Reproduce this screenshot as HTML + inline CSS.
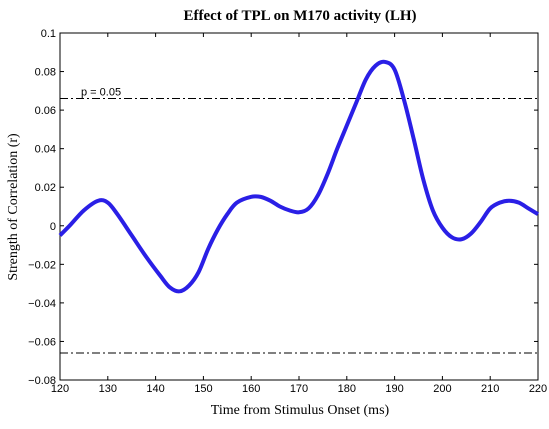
<!DOCTYPE html>
<html><head><meta charset="utf-8"><style>
body{margin:0;background:#fff;width:549px;height:424px;overflow:hidden}
svg text{font-family:"Liberation Sans",sans-serif}
</style></head><body>
<svg id="c" width="549" height="424">
<text x="300" y="20" text-anchor="middle" font-family="Liberation Serif" style="font-family:'Liberation Serif',serif" font-weight="bold" font-size="15">Effect of TPL on M170 activity (LH)</text>
<text x="300" y="414" text-anchor="middle" style="font-family:'Liberation Serif',serif" font-size="14">Time from Stimulus Onset (ms)</text>
<text transform="translate(17,207) rotate(-90)" text-anchor="middle" style="font-family:'Liberation Serif',serif" font-size="14">Strength of Correlation (r)</text>
<g id="g"></g>
</svg>
<script>
const times=[120,122,125,128,130,132,135,138,141,143,145,147,149,151,153,155,157,160,162,164,166,168,170,172,174,176,178,180,182,184,186,188,190,192,194,196,198,200,202,204,206,208,210,212,214,216,218,220];
const values=[-0.005,0.0,0.008,0.013,0.012,0.006,-0.005,-0.016,-0.026,-0.032,-0.034,-0.031,-0.024,-0.012,-0.002,0.006,0.012,0.015,0.015,0.013,0.01,0.008,0.007,0.009,0.016,0.027,0.04,0.052,0.064,0.076,0.083,0.085,0.081,0.065,0.045,0.024,0.008,-0.001,-0.006,-0.007,-0.004,0.002,0.009,0.012,0.013,0.012,0.009,0.006];
const xTicks=[120,130,140,150,160,170,180,190,200,210,220];
const yTicks=[0.1,0.08,0.06,0.04,0.02,0,-0.02,-0.04,-0.06,-0.08];
const yTickLabels=["0.1","0.08","0.06","0.04","0.02","0","\u22120.02","\u22120.04","\u22120.06","\u22120.08"];
const threshold=[0.066,-0.066];
const L=60,R=538,T=33,B=380;
const X=v=>L+(v-120)/100*(R-L);
const Y=v=>T+(0.1-v)/0.18*(B-T);
const g=document.getElementById('g');
const NS='http://www.w3.org/2000/svg';
function mk(t,a){const e=document.createElementNS(NS,t);for(const k in a)e.setAttribute(k,a[k]);g.appendChild(e);return e;}
const frame=mk('rect',{x:L,y:T,width:R-L,height:B-T,fill:'none',stroke:'#000','stroke-width':1});


xTicks.forEach(t=>{
 const x=X(t);
 const a=mk('line',{x1:x,x2:x,y1:B,y2:B-4,stroke:'#000'});
 
 
 mk('line',{x1:x,x2:x,y1:T,y2:T+4,stroke:'#000'});
 const tx=mk('text',{x:x,y:B+12,'text-anchor':'middle','font-size':11});
 tx.textContent=t;
 
 
});
yTicks.forEach((t,i)=>{
 const y=Y(t);
 const a=mk('line',{x1:L,x2:L+4,y1:y,y2:y,stroke:'#000'});
 
 
 mk('line',{x1:R,x2:R-4,y1:y,y2:y,stroke:'#000'});
 const tx=mk('text',{x:L-4,y:y+4,'text-anchor':'end','font-size':11});
 tx.textContent=yTickLabels[i];
 
 
});
threshold.forEach(v=>{
 const l=mk('line',{x1:L,x2:R,y1:Y(v),y2:Y(v),stroke:'#000','stroke-dasharray':'8,3,2,3'});
 
 
});
const pl=mk('text',{x:81,y:Y(threshold[0])-3,'font-size':11});
pl.textContent='p = 0.05';


const P=times.map((t,i)=>[X(t),Y(values[i])]);
let d='M'+P[0][0]+','+P[0][1];
for(let i=0;i<P.length-1;i++){
 const p0=P[Math.max(0,i-1)],p1=P[i],p2=P[i+1],p3=P[Math.min(P.length-1,i+2)];
 d+=' C'+(p1[0]+(p2[0]-p0[0])/6)+','+(p1[1]+(p2[1]-p0[1])/6)+' '+(p2[0]-(p3[0]-p1[0])/6)+','+(p2[1]-(p3[1]-p1[1])/6)+' '+p2[0]+','+p2[1];
}
const line=mk('path',{d:d,fill:'none',stroke:'#2a1fe6','stroke-width':4,'stroke-linejoin':'round'});


</script>
</body></html>
